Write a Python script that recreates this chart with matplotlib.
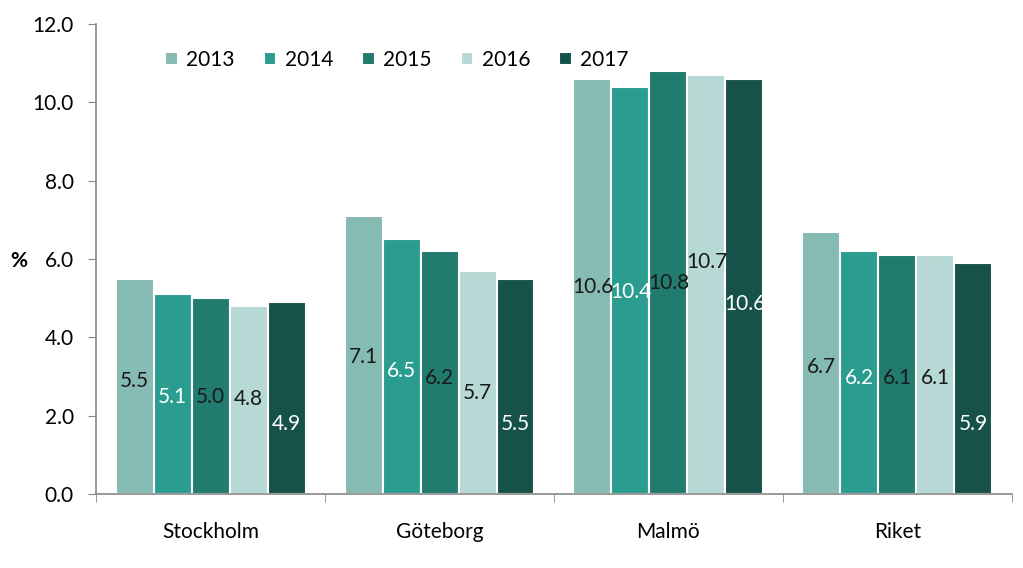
import matplotlib.pyplot as plt
import numpy as np

plt.rcParams['font.family'] = ['Lato', 'DejaVu Sans']

regions = ["Stockholm", "Göteborg", "Malmö", "Riket"]
years = ["2013", "2014", "2015", "2016", "2017"]
values = {
    "2013": [5.5, 7.1, 10.6, 6.7],
    "2014": [5.1, 6.5, 10.4, 6.2],
    "2015": [5.0, 6.2, 10.8, 6.1],
    "2016": [4.8, 5.7, 10.7, 6.1],
    "2017": [4.9, 5.5, 10.6, 5.9],
}
# vertical position of the value labels (as in the original, roughly mid-bar)
label_y = {
    "2013": [2.88, 3.50, 5.28, 3.24],
    "2014": [2.48, 3.14, 5.16, 2.96],
    "2015": [2.48, 2.96, 5.39, 2.96],
    "2016": [2.43, 2.58, 5.92, 2.96],
    "2017": [1.79, 1.79, 4.85, 1.79],
}
colors = ["#86bbb3", "#2a9d90", "#217b6e", "#b7d9d5", "#165249"]
label_colors = ["#1a1a1a", "white", "#1a1a1a", "#1a1a1a", "white"]

fig = plt.figure(figsize=(10.23, 5.68), dpi=100)
ax = fig.add_axes([0.094, 0.130, 0.895, 0.828])

x = np.arange(len(regions))
w = 0.166
for k, y in enumerate(years):
    pos = x + (k - 2) * w
    ax.bar(pos, values[y], width=w, color=colors[k], edgecolor="white",
           linewidth=1.5, label=y)
    for px, v, ly in zip(pos, values[y], label_y[y]):
        ax.text(px, ly, f"{v:.1f}", ha="center", va="center",
                fontsize=15, color=label_colors[k])

ax.set_xlim(-0.5, 3.5)
ax.set_ylim(0, 12)
ax.set_yticks(np.arange(0, 12.1, 2))
ax.set_yticklabels([f"{t:.1f}" for t in np.arange(0, 12.1, 2)], fontsize=15)
ax.set_xticks(x)
ax.set_xticklabels(regions, fontsize=15)
ax.set_xticks(np.arange(-0.5, 4, 1), minor=True)
ax.tick_params(axis="x", which="major", length=0, pad=20)
ax.tick_params(axis="x", which="minor", length=6, color="#888888")
ax.tick_params(axis="y", length=6, color="#888888", pad=10)

for s in ["top", "right"]:
    ax.spines[s].set_visible(False)
for s in ["left", "bottom"]:
    ax.spines[s].set_color("#888888")
    ax.spines[s].set_linewidth(1.2)

ax.set_ylabel("%", rotation=0, fontsize=15, fontweight="bold")
ax.yaxis.set_label_coords(-0.085, 0.475)

ax.legend(ncol=5, frameon=False, fontsize=15, loc="upper left",
          bbox_to_anchor=(0.055, 0.985), handlelength=0.6, handleheight=0.6,
          handletextpad=0.4, columnspacing=1.4)

fig.savefig("out.png", dpi=100)
